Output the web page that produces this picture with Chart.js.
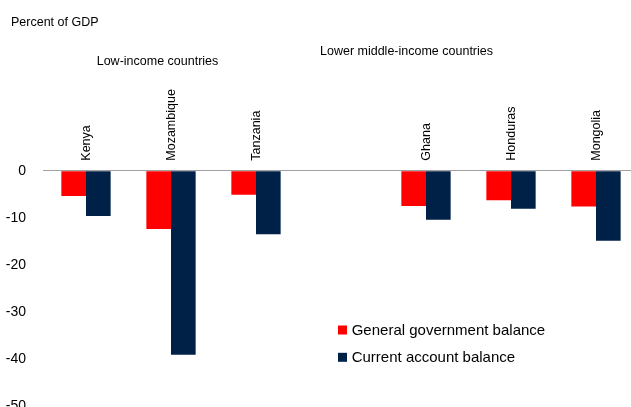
<!DOCTYPE html>
<html>
<head>
<meta charset="utf-8">
<script src="https://cdn.jsdelivr.net/npm/chart.js@4"></script>
<style>
html,body{margin:0;padding:0;overflow:hidden;background:#fff;width:631px;height:407px;}
canvas{display:block;}
</style>
</head>
<body>
<canvas id="c" width="640" height="432"></canvas>
<script>
const categories = ["Kenya", "Mozambique", "Tanzania", "", "Ghana", "Honduras", "Mongolia"];
const governmentBalance = [-5.4, -12.4, -5.1, null, -7.5, -6.3, -7.6];
const currentAccountBalance = [-9.6, -39.1, -13.5, null, -10.4, -8.1, -14.9];
const yTicks = [0, -10, -20, -30, -40, -50];
const seriesNames = ["General government balance", "Current account balance"];
const seriesColors = ["#FF0000", "#002147"];
const unitLabel = "Percent of GDP";
const groupLabels = ["Low-income countries", "Lower middle-income countries"];

const FONT = "'Liberation Sans', Arial, sans-serif";

const textPlugin = {
  id: 'texts',
  afterDraw(chart) {
    const ctx = chart.ctx;
    ctx.save();
    ctx.fillStyle = '#000';
    ctx.textBaseline = 'middle';
    ctx.textAlign = 'left';
    ctx.font = "12.5px " + FONT;
    ctx.fillText(unitLabel, 11, 22.5);
    ctx.fillText(groupLabels[0], 96.7, 62);
    ctx.fillText(groupLabels[1], 320, 52);
    // legend
    ctx.font = "15px " + FONT;
    const ys = [330, 357.3];
    chart.data.datasets.forEach((ds, i) => {
      ctx.fillStyle = ds.backgroundColor;
      ctx.fillRect(338, ys[i] - 4.5, 9, 9);
      ctx.fillStyle = '#000';
      ctx.fillText(ds.label, 351.7, ys[i] + 0.5);
    });
    ctx.restore();
  }
};

new Chart(document.getElementById('c'), {
  type: 'bar',
  data: {
    labels: categories,
    datasets: [
      { label: seriesNames[0], data: governmentBalance, backgroundColor: seriesColors[0], borderWidth: 0 },
      { label: seriesNames[1], data: currentAccountBalance, backgroundColor: seriesColors[1], borderWidth: 0 }
    ]
  },
  options: {
    responsive: false,
    animation: false,
    layout: { padding: { top: 0, left: 0, right: 1.5, bottom: 16 } },
    plugins: { legend: { display: false }, tooltip: { enabled: false } },
    datasets: { bar: { categoryPercentage: 0.58, barPercentage: 1.0 } },
    scales: {
      x: {
        position: 'top',
        grid: { display: true, drawOnChartArea: false, drawTicks: false, color: 'rgba(0,0,0,0)' },
        border: { display: true, color: '#A0A0A0', width: 1 },
        ticks: {
          autoSkip: false,
          maxRotation: 90,
          minRotation: 90,
          padding: 10,
          labelOffset: 15.5,
          color: '#000',
          font: { family: FONT, size: 12.5 }
        },
        afterFit(scale) { scale.height = 170.7; }
      },
      y: {
        min: -50,
        max: 0,
        afterBuildTicks(scale) { scale.ticks = yTicks.map(v => ({ value: v })); },
        grid: { display: true, drawOnChartArea: false, drawTicks: false, color: 'rgba(0,0,0,0)' },
        border: { display: false },
        ticks: {
          padding: 17.5,
          color: '#000',
          font: { family: FONT, size: 14 }
        },
        afterFit(scale) { scale.width = 43.5; }
      }
    }
  },
  plugins: [textPlugin]
});
</script>
</body>
</html>
